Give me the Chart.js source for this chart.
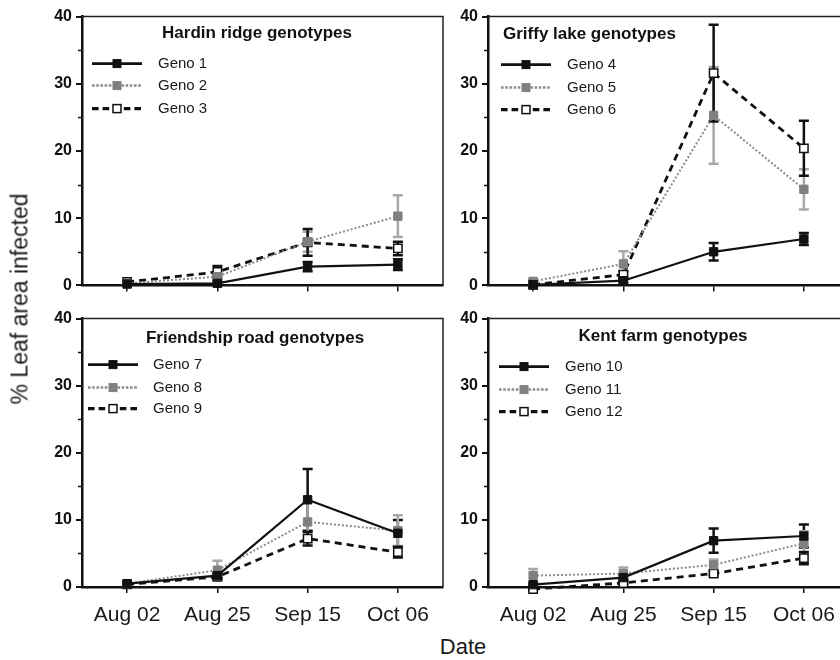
<!DOCTYPE html>
<html>
<head>
<meta charset="utf-8">
<script src="https://cdn.jsdelivr.net/npm/chart.js@4.4.1/dist/chart.umd.min.js"></script>
<style>
  body { margin: 0; width: 840px; height: 660px; overflow: hidden; background: #fff; position: relative;
         font-family: 'Liberation Sans', Arial, Helvetica, sans-serif; }
  canvas { position: absolute; }
  .ytitle { position: absolute; left: 20px; top: 299px; transform: translate(-50%, -50%) rotate(-90deg);
            white-space: nowrap; font-size: 23px; color: #1a1a1a; }
  .xtitle { position: absolute; left: 463px; top: 647px; transform: translate(-50%, -50%);
            font-size: 22px; color: #1a1a1a; }
</style>
</head>
<body>
<canvas id="p1"></canvas>
<canvas id="p2"></canvas>
<canvas id="p3"></canvas>
<canvas id="p4"></canvas>
<div class="ytitle">% Leaf area infected</div>
<div class="xtitle">Date</div>
<script>
// sampling dates (x categories)
const dates = ['Aug 02', 'Aug 25', 'Sep 15', 'Oct 06'];

// Hardin ridge
const geno1 = [0.2, 0.3, 2.8, 3.1];
const geno1Err = [0.2, 0.3, 0.7, 0.8];
const geno2 = [0.3, 1.3, 6.5, 10.3];
const geno2Err = [0.2, 0.4, 1.5, 3.1];
const geno3 = [0.5, 2.0, 6.4, 5.5];
const geno3Err = [0.2, 0.9, 2.0, 1.0];

// Griffy lake
const geno4 = [0.1, 0.7, 5.0, 6.9];
const geno4Err = [0.1, 0.3, 1.3, 0.9];
const geno5 = [0.6, 3.2, 25.3, 14.3];
const geno5Err = [0.3, 1.9, 7.2, 3.0];
const geno6 = [0.1, 1.6, 31.6, 20.4];
const geno6Err = [0.1, 0.5, 7.2, 4.1];

// Friendship road
const geno7 = [0.5, 1.7, 13.0, 8.0];
const geno7Err = [0.2, 0.4, 4.6, 2.0];
const geno8 = [0.5, 2.5, 9.7, 8.4];
const geno8Err = [0.2, 1.4, 3.0, 2.3];
const geno9 = [0.4, 1.5, 7.2, 5.2];
const geno9Err = [0.2, 0.3, 1.0, 0.8];

// Kent farm
const geno10 = [0.35, 1.4, 6.9, 7.6];
const geno10Err = [0.3, 0.4, 1.8, 1.7];
const geno11 = [1.7, 2.0, 3.3, 6.5];
const geno11Err = [1.0, 0.9, 0.8, 1.8];
const geno12 = [-0.3, 0.6, 2.0, 4.3];
const geno12Err = [0.2, 0.2, 0.3, 0.9];

const FONT = "'Liberation Sans', Arial, Helvetica, sans-serif";
const YW = 50, PT = 12, PR = 12;

const STYLES = {
  solid:  { borderColor: '#111', borderWidth: 2.2, borderDash: [], pointBackgroundColor: '#111',
            pointBorderColor: '#111', pointBorderWidth: 1, errColor: '#111' },
  dotted: { borderColor: '#8c8c8c', borderWidth: 2, borderDash: [2, 2], pointBackgroundColor: '#808080',
            pointBorderColor: '#808080', pointBorderWidth: 1, errColor: '#a8a8a8' },
  dashed: { borderColor: '#111', borderWidth: 2.8, borderDash: [7, 5], pointBackgroundColor: '#fff',
            pointBorderColor: '#111', pointBorderWidth: 1.5, errColor: '#111' }
};

// error bars, minor ticks, frame, panel title and legend
const panelDeco = {
  id: 'panelDeco',
  beforeDatasetsDraw(chart) {
    const ctx = chart.ctx, y = chart.scales.y;
    chart.data.datasets.forEach((ds, i) => {
      const meta = chart.getDatasetMeta(i);
      ctx.save();
      ctx.strokeStyle = ds.errColor;
      ctx.lineWidth = 2.5;
      ds.err.forEach((e, j) => {
        const px = meta.data[j].x;
        const top = y.getPixelForValue(ds.data[j] + e);
        const bot = y.getPixelForValue(ds.data[j] - e);
        ctx.beginPath();
        ctx.moveTo(px, top); ctx.lineTo(px, bot);
        ctx.moveTo(px - 5, top); ctx.lineTo(px + 5, top);
        ctx.moveTo(px - 5, bot); ctx.lineTo(px + 5, bot);
        ctx.stroke();
      });
      ctx.restore();
    });
  },
  afterDraw(chart, args, opts) {
    const ctx = chart.ctx, a = chart.chartArea, y = chart.scales.y;
    ctx.save();
    // short minor ticks on y
    ctx.strokeStyle = '#111';
    ctx.lineWidth = 1.5;
    y.ticks.filter(t => t.value % 10 !== 0).forEach(t => {
      const py = Math.round(y.getPixelForValue(t.value)) + 0.5;
      ctx.beginPath(); ctx.moveTo(a.left - 4, py); ctx.lineTo(a.left, py); ctx.stroke();
    });
    // thin top/right frame
    ctx.strokeStyle = '#222';
    ctx.beginPath();
    ctx.moveTo(a.left, a.top); ctx.lineTo(a.right, a.top); ctx.lineTo(a.right, a.bottom);
    ctx.stroke();
    // title
    ctx.fillStyle = '#111';
    ctx.font = 'bold 17px ' + FONT;
    ctx.textBaseline = 'middle';
    ctx.textAlign = opts.titleAlign;
    ctx.fillText(opts.title, a.left + opts.titleX, a.top + opts.titleY);
    // legend
    ctx.textAlign = 'left';
    ctx.font = '15px ' + FONT;
    chart.data.datasets.forEach((ds, i) => {
      const ly = a.top + opts.rows[i];
      const x0 = a.left + opts.lineX, x1 = x0 + 50, mx = (x0 + x1) / 2;
      ctx.strokeStyle = ds.borderColor;
      ctx.lineWidth = ds.borderWidth + 0.5;
      ctx.setLineDash(ds.borderDash.length ? [ds.borderDash[0] * 0.8 + 1, ds.borderDash[1] * 0.8] : []);
      ctx.beginPath(); ctx.moveTo(x0, ly); ctx.lineTo(x1, ly); ctx.stroke();
      ctx.setLineDash([]);
      ctx.fillStyle = ds.pointBackgroundColor;
      ctx.fillRect(mx - 4, ly - 4, 8, 8);
      ctx.strokeStyle = ds.pointBorderColor;
      ctx.lineWidth = ds.pointBorderWidth;
      ctx.strokeRect(mx - 4, ly - 4, 8, 8);
      ctx.fillStyle = '#1a1a1a';
      ctx.fillText(ds.label, a.left + opts.textX, ly);
    });
    ctx.restore();
  }
};

function makePanel(id, box, showDates, deco, series) {
  const XH = showDates ? 45 : 12;
  const cv = document.getElementById(id);
  cv.width = box.r - box.l + YW + PR;
  cv.height = box.b - box.t + PT + XH;
  cv.style.left = (box.l - YW) + 'px';
  cv.style.top = (box.t - PT) + 'px';

  const datasets = series.map(s => Object.assign({
    label: s.label, data: s.data, err: s.err,
    pointStyle: 'rect', pointRadius: 5.9, tension: 0, clip: false
  }, STYLES[s.style]));

  new Chart(cv, {
    type: 'line',
    data: { labels: dates, datasets },
    options: {
      responsive: false,
      animation: false,
      devicePixelRatio: 1,
      layout: { padding: { left: 0, top: PT, right: PR, bottom: 0 } },
      plugins: { legend: { display: false }, tooltip: { enabled: false }, panelDeco: deco },
      scales: {
        x: {
          type: 'category',
          offset: true,
          grid: { drawOnChartArea: false, drawTicks: true, tickLength: 6, color: '#111', lineWidth: 1.5 },
          border: { width: 2.5, color: '#111' },
          ticks: {
            padding: 10, color: '#1a1a1a', maxRotation: 0, autoSkip: false,
            font: { family: FONT, size: 21 },
            callback: (v, i) => showDates ? dates[i] : ''
          },
          afterFit(s) { s.height = XH; }
        },
        y: {
          min: 0, max: 40,
          grid: {
            drawOnChartArea: false, tickLength: 6, lineWidth: 2,
            tickColor: c => c.tick && c.tick.value % 10 === 0 ? '#111' : 'rgba(0,0,0,0)'
          },
          border: { width: 2.5, color: '#111' },
          ticks: {
            stepSize: 5, padding: 4, color: '#111',
            font: { family: FONT, size: 16, weight: 'bold' },
            callback: v => v % 10 === 0 ? v : ''
          },
          afterFit(s) { s.width = YW; }
        }
      }
    },
    plugins: [panelDeco]
  });
}

makePanel('p1', { l: 82, t: 15, r: 443, b: 287 }, false,
  { title: 'Hardin ridge genotypes', titleAlign: 'center', titleX: 175, titleY: 17,
    lineX: 10, textX: 76, rows: [47, 69, 92] },
  [ { label: 'Geno 1', data: geno1, err: geno1Err, style: 'solid' },
    { label: 'Geno 2', data: geno2, err: geno2Err, style: 'dotted' },
    { label: 'Geno 3', data: geno3, err: geno3Err, style: 'dashed' } ]);

makePanel('p2', { l: 488, t: 15, r: 849, b: 287 }, false,
  { title: 'Griffy lake genotypes', titleAlign: 'left', titleX: 15, titleY: 18,
    lineX: 13, textX: 79, rows: [48, 71, 93] },
  [ { label: 'Geno 4', data: geno4, err: geno4Err, style: 'solid' },
    { label: 'Geno 5', data: geno5, err: geno5Err, style: 'dotted' },
    { label: 'Geno 6', data: geno6, err: geno6Err, style: 'dashed' } ]);

makePanel('p3', { l: 82, t: 317, r: 443, b: 587 }, true,
  { title: 'Friendship road genotypes', titleAlign: 'center', titleX: 173, titleY: 20,
    lineX: 6, textX: 71, rows: [46, 69, 90] },
  [ { label: 'Geno 7', data: geno7, err: geno7Err, style: 'solid' },
    { label: 'Geno 8', data: geno8, err: geno8Err, style: 'dotted' },
    { label: 'Geno 9', data: geno9, err: geno9Err, style: 'dashed' } ]);

makePanel('p4', { l: 488, t: 317, r: 849, b: 587 }, true,
  { title: 'Kent farm genotypes', titleAlign: 'center', titleX: 175, titleY: 18,
    lineX: 11, textX: 77, rows: [48, 71, 93] },
  [ { label: 'Geno 10', data: geno10, err: geno10Err, style: 'solid' },
    { label: 'Geno 11', data: geno11, err: geno11Err, style: 'dotted' },
    { label: 'Geno 12', data: geno12, err: geno12Err, style: 'dashed' } ]);
</script>
</body>
</html>
